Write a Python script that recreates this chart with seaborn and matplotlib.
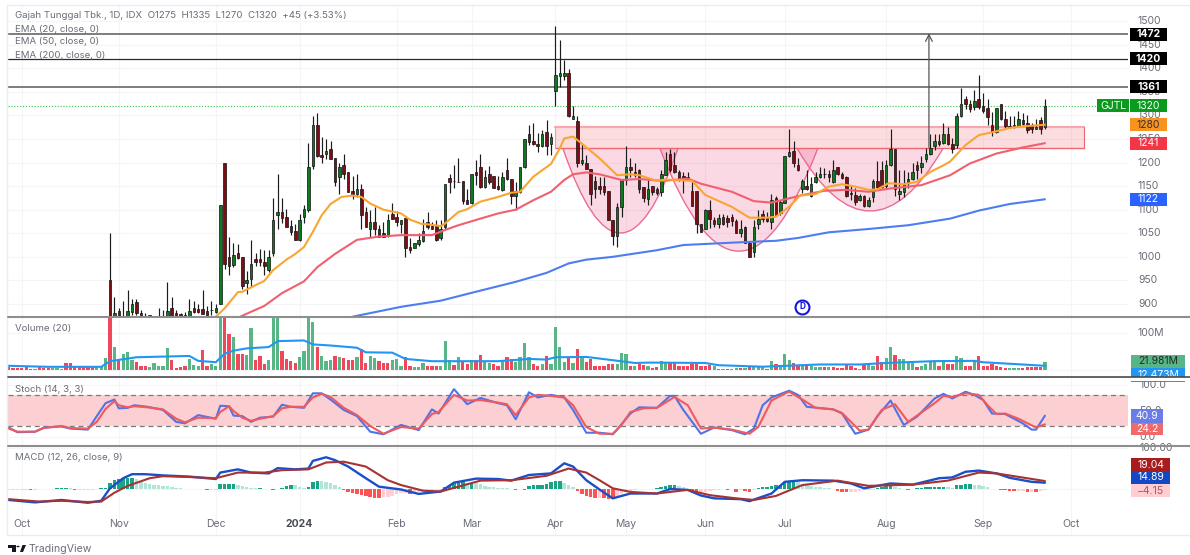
import numpy as np
import pandas as pd
import matplotlib
matplotlib.use("Agg")
import matplotlib.pyplot as plt
import seaborn as sns
from matplotlib.lines import Line2D
from matplotlib.path import Path
from matplotlib.patches import PathPatch, Polygon, Rectangle
from matplotlib.transforms import blended_transform_factory

# candles start at the big November spike, bars before it sit under the pane
candle_open = [950,873,886,875,874,884,905,881,875,876, 870,873,875,873,891,881,878,877,873,891,
    890,890,886,887,884,899,1199,1000,982,1009, 1000,945,954,995,995,990,972,1009,1089,1096,
    1084,1065,1055,1035,1084,1099,1193,1279,1216,1218, 1228,1210,1170,1194,1180,1139,1133,1143,1096,1059,
    1074,1060,1050,1045,1091,1084,1069,1083,1020,1018, 1028,1033,1074,1066,1065,1039,1063,1168,1160,1159,
    1160,1120,1115,1180,1190,1148,1175,1172,1150,1141, 1184,1165,1129,1138,1191,1260,1245,1240,1235,1264,
    1239,1352,1383,1383,1389,1293,1288,1198,1199,1186, 1160,1150,1150,1139,1079,1045,1105,1163,1190,1180,
    1184,1149,1122,1150,1144,1138,1173,1219,1195,1180, 1171,1165,1139,1139,1069,1060,1100,1079,1069,1085,
    1083,1084,1076,1050,1064,1030,1010,1069,1090,1084, 1074,1124,1093,1115,1214,1224,1195,1144,1150,1129,
    1159,1170,1175,1175,1159,1190,1175,1170,1135,1131, 1120,1130,1108,1126,1160,1184,1151,1195,1228,1134,
    1138,1159,1164,1194,1190,1207,1219,1235,1245,1242, 1260,1240,1237,1298,1334,1324,1318,1334,1320,1316,
    1279,1264,1325,1293,1277,1277,1278,1290,1284,1277, 1271,1290,1275]
candle_high = [1050,915,891,906,930,910,910,888,881,877, 871,891,887,946,915,888,881,883,910,906,
    899,930,896,906,901,1110,1200,1041,1030,1027, 1000,970,1036,1009,1016,1014,1015,1124,1175,1124,
    1101,1078,1069,1090,1110,1241,1298,1306,1255,1249, 1245,1210,1200,1219,1180,1171,1175,1154,1106,1099,
    1105,1067,1074,1091,1115,1097,1079,1083,1039,1030, 1050,1080,1095,1074,1078,1078,1154,1175,1194,1209,
    1160,1143,1175,1205,1219,1185,1193,1172,1171,1180, 1209,1165,1159,1190,1250,1279,1284,1262,1269,1290,
    1262,1489,1460,1418,1399,1320,1298,1240,1216,1186, 1171,1170,1170,1139,1079,1115,1166,1235,1209,1200,
    1187,1149,1163,1150,1149,1184,1223,1228,1223,1185, 1180,1180,1160,1139,1069,1102,1120,1085,1090,1090,
    1088,1090,1080,1078,1066,1030,1079,1100,1100,1096, 1133,1130,1120,1214,1270,1245,1209,1166,1185,1170,
    1180,1191,1189,1184,1205,1191,1180,1172,1150,1145, 1133,1132,1127,1166,1204,1204,1205,1270,1228,1184,
    1184,1180,1198,1203,1214,1230,1260,1260,1260,1284, 1276,1251,1304,1359,1340,1332,1354,1385,1347,1334,
    1308,1316,1325,1310,1298,1298,1310,1305,1300,1283, 1293,1296,1335]
candle_low = [870,873,873,873,873,876,877,873,873,873, 866,872,873,873,873,873,873,873,873,880,
    880,878,873,877,881,899,975,961,979,996, 931,921,935,981,981,961,968,1001,1060,1071,
    1064,1046,1035,1033,1071,1096,1186,1211,1200,1207, 1207,1150,1134,1166,1138,1122,1126,1060,1064,1041,
    1046,1043,1043,1043,1081,1066,1050,1000,1009,1018, 1023,1031,1058,1058,1034,1035,1060,1136,1145,1159,
    1111,1113,1113,1152,1145,1145,1155,1145,1141,1139, 1162,1111,1100,1136,1189,1237,1237,1223,1233,1216,
    1216,1320,1360,1375,1296,1293,1191,1195,1187,1110, 1124,1134,1131,1079,1025,1021,1085,1152,1170,1170,
    1136,1117,1110,1131,1131,1129,1173,1180,1177,1161, 1136,1162,1107,1051,1053,1058,1062,1063,1062,1067,
    1064,1065,1050,1042,1030,999,1000,1060,1074,1074, 1060,1086,1088,1115,1211,1191,1183,1136,1141,1127,
    1156,1168,1168,1159,1157,1173,1166,1127,1120,1110, 1118,1106,1106,1117,1147,1147,1145,1193,1129,1120,
    1127,1145,1162,1164,1177,1202,1215,1226,1236,1240, 1238,1221,1230,1297,1313,1308,1311,1313,1306,1279,
    1257,1262,1291,1270,1274,1274,1277,1279,1262,1262, 1272,1260,1270]
candle_close = [872,881,873,873,886,900,880,873,874,873, 868,873,874,886,875,873,873,873,886,884,
    884,879,875,888,891,1110,984,980,1004,998, 939,951,985,989,988,980,999,1079,1096,1083,
    1064,1053,1035,1079,1101,1190,1279,1214,1212,1224, 1207,1159,1190,1175,1138,1133,1144,1089,1064,1074,
    1059,1043,1043,1079,1081,1073,1079,1019,1014,1030, 1035,1055,1063,1060,1035,1060,1154,1159,1160,1159,
    1119,1113,1175,1173,1148,1170,1158,1147,1143,1170, 1164,1130,1139,1190,1250,1244,1239,1235,1260,1235,
    1255,1385,1390,1390,1298,1298,1198,1205,1187,1133, 1143,1143,1138,1079,1045,1105,1163,1190,1184,1174,
    1144,1124,1143,1138,1136,1175,1205,1184,1180,1163, 1163,1170,1107,1069,1053,1100,1081,1069,1083,1069,
    1074,1076,1050,1060,1030,999,1064,1081,1081,1076, 1120,1088,1117,1214,1223,1200,1184,1160,1144,1154,
    1170,1175,1175,1170,1185,1175,1168,1129,1133,1117, 1130,1108,1120,1160,1149,1149,1195,1228,1144,1140,
    1154,1166,1180,1184,1200,1219,1230,1246,1239,1260, 1240,1228,1298,1325,1325,1313,1330,1318,1310,1297,
    1264,1316,1293,1278,1276,1279,1293,1281,1269,1270, 1276,1272,1320]

ema20_x = [24,26,29,30,35,37,40,42,44,46,48,50,52.5,55,57,59,62,64,66,68,70.6,72,75,76,79,81,84,88,91,93,96,100,102,103,105,107,111,115,118,120,124,126,132,135,141,145,149,151,154,156.5,160,163,166,169,172,174,176.5,180,183,186,189,190.5,194,197,200,204.5,207.5,212]
ema20 = [873,891,925,926,949,972,994,1006,1021,1053,1088,1112,1127,1130,1127,1113,1100,1096,1092,1079,1070,1069,1065,1071,1095,1101,1117,1127,1136,1138,1170,1197,1230,1251,1255,1240,1209,1173,1175,1173,1161,1164,1161,1131,1106,1083,1083,1085,1106,1130,1133,1149,1154,1149,1142,1143,1156,1154,1159,1180,1194,1202,1237,1258,1264,1274,1277,1280]
ema50_x = [29.5,35,39,44,47,51,56,61,66,70,73,76,79,84,88,92,96,100,103,105,108,111,116,120,125.5,131,134,141,146,150,154,157,162,167,172,177,184,190.5,195,201,207,212]
ema50 = [873,896,923,948,978,1006,1036,1043,1046,1046,1046,1057,1067,1081,1092,1100,1120,1138,1163,1175,1179,1175,1163,1165,1161,1166,1155,1138,1118,1115,1124,1131,1140,1142,1138,1145,1152,1173,1198,1219,1232,1241]
ema200_x = [55,66,75,83,92,99,104,108,114,124,130,141,151,156,163,172,181,190.5,197,204,212]
ema200 = [873,894,907,926,947,966,986,994,1000,1014,1025,1030,1034,1040,1052,1059,1067,1081,1098,1112,1122]

# volume in millions with its direction, first bar is 23 sessions before the spike
vol_pairs = (
    "r8 r6.2 r5.3 r6.2 r10.6 r4.4 g3.5 r8.9 r7 r5.3 g6.2 g6.2 g4.4 r19.5 r19.5 r8 r8 r8 r8 r8 g8 g8.9 g33.6 "
    "r142 g64 r31 g44 g50 g28 r22 r13 r11.5 g9 g19.5 g13 g11 g60 r28 r7 r9 r12.4 g31 g15 g11 r55 r12.4 g16 g11 "
    "g142 r142 r99 g91 r44 r44 g41 g115 r27 r39 r16 g28 g142 g142 r53 r31 r25 r19.5 g37 g51 g142 g131 r64 g40 g25 "
    "g28 r39 g37 r34 r28 r29 g37 r58 r19.5 g39 g34 r25 r19.5 r19.5 g27 g31 g13 r36 r13 g9 g9 g19.5 r13 r11 r11 g13 "
    "g78 g27 r14 g37 r22 r16 g27 r27 r42 g22 g19.5 r16 r13 g27 r35 r32 g22 g37 g75 g35 r18 r13 g16 r40 g18 "
    "g118 g62 g22 r34 g19.5 r58 g35 r22 r31 r13 r13 r13 r16 r18 g18 g46 g44 r13 g13 r16 r14 g13 r7 r8 "
    "g24 g23 r19.5 r19.5 r12 r11 r12 r18 r18 r11.5 r12 r14 g11 r4 g4 r3.5 g3.5 g6 r7 g6 r11 g9 g9 g9 r5 "
    "g24 r16 g14 g44 g29 r19.5 r13 g13 r12 g13 g9 g9 r8 g9 r9 r7 r7 r16 r12 r7 g5 r16 g16 g13 "
    "r40 r22 g34 g64 r42 g31 g31 g19.5 g19.5 r9 g13 g18 g22 g22 r13 g22 r18 r18 g40 g34 r11 r13 g25 r40 "
    "r13 r13 r16 r12 r9 r7 g7 g7 g7 r6 r9 r8 r8 r8 g21.981").split()
volume = [float(p[1:]) for p in vol_pairs]
vol_dir = [p[0] for p in vol_pairs]
vol_ma_x = [-23,-20,-14,-2,0,4,6,12,18,20,24,26,28,31,36,38,44,46,50,56,58,64,67,73,88,95,99,101,108,113,119,122,124,135,138,148,161,170,176,187,196,198,212]
vol_ma = [12.4,11.5,9.7,9.7,24.8,31.9,35.4,37.2,38.9,25.7,22.1,45,53.1,59.3,62.8,78.8,80.6,70,67,61,48.7,47.8,30.9,24.8,24.8,30.9,29.2,35.4,36.3,29,20,21,21,20,14,10,16,16,20,25,25.7,22,12.473]

stoch_k_x = [-23,-21,-17,-15,-11,-9,-5,-3,-1,1,2,4,5.5,8.5,12,15,17,20,24,25,27,28,30,32,34,37,39,41,44,46,48,50,53,56,59,62,66,70,73,74.5,78,81,84,88,90,92,95,97,100,103,105,108,111,
    114,115,118,120,124,127,128,130,134,137,141,144,146,148,150,154,156,158,164,166,169,172,174,177,180,183,187,189,191,194,196,198,200,203,205,207,209,210,212]
stoch_k = [18,9,10,18,20,16,14,40,65,72,55,56,61,58,52,29,26,42,35,60,59,41,40,29,37,39,62,58,56,84,84,72,52,40,10,5,23,13,53,45,92,63,75,65,61,34,86,76,81,76,52,8,8,
    5,14,45,57,56,79,79,52,6,18,13,5,16,61,76,89,81,58,53,45,6,14,40,70,23,39,74,83,74,87,81,71,45,44,35,26,14,14,40.9]
stoch_d_x = [-23,-21,-17,-15,-11,-9,-5,-3,-1,1,2,4,5.5,8.5,12,15,17,20,24,25,27,28,30,32,34,37,39,41,44,46,48,50,53,56,59,62,66,70,73,74.5,78,81,84,88,90,92,95,97,100,103,105,108,111,
    114,116,118,121,124,125,128,131,134,137,141,145,147,150,152,154,157,160,164,166,170,172,175,178,181,187,189,191,194,197,199,201,203,206,210,212]
stoch_d = [16,10,10,17,21,17,16,29,54,69,61,57,59,57,53,35,28,37,36,48,59,50,37,31,35,40,55,58,58,76,83,77,56,42,21,6,19,16,44,48,81,70,71,66,63,42,76,81,79,76,61,19,6,
    6,23,48,55,56,61,77,61,16,18,14,6,19,70,79,87,72,56,53,46,12,14,52,63,29,65,79,77,84,81,61,44,45,35,18,24.2]
stoch_lower, stoch_upper = 20, 80

macd_x = [-23,-17,-11,-5,-2,0,3,5,8,12,18,24,25,29,32,36,38,42,45,46,49,51,54,58,61,66,70,75,78,83,88,91,95,100,103,105,108,111,
    114,118,124,127,131,134,137,143,145,150,153,157,164,168,171,177,182,188,191,194,197,201,204,209,212]
macd = [-28,-34,-28,-35,-30,1,26,36,36,33,30,24,40,48,40,38,51,48,50,69,78,71,55,26,5,-2,-13,-7,15,25,24,20,34,38,63,55,21,-2,
    -24,-12,-12,-1,-3,-17,-24,-26,-31,-12,17,21,20,13,1,13,10,26,28,42,45,38,27,17,14.89]
signal_x = [-23,-16,-11,-5,-2,1,4,9,12,18,24,29,35,39,45,49,53,58,63,66,71,75,79,84,91,99,104,108,111,
    114,118,124,131,136,142,146,151,157,165,172,182,190,197,201,212]
signal = [-26,-32,-30,-33,-32,-10,7,26,31,29,26,40,40,46,48,65,67,55,21,9,-5,-7,5,20,21,32,50,40,21,
    1,-8,-12,-3,-16,-24,-28,-18,9,20,7,10,20,40,38,19.04]
macd_hist = [-3,-3,-3,-3,-2.5,-3,-2.5,-1,-1,-1,-1,2,2,2,1,-2.5,-2.5,-2.5,-2.5,-2.5,-1,2,2.5,
    14,22,25,26,27,27,23,18,15,12,10,8,7,6,5,2.5,2,-1,-2,-1,-2,-2,-2.5,-2.5,-2.5,
    12,12,12,12,9,7,3,2.5,2,2,-2,-2,-2.5,-1,2.5,7,9,8,5,2.5,5,17,19,18,17,15,8,3,
    -3,-7,-10,-12,-15,-18,-21,-22,-23,-21,-20,-17,-13,-10,-10,-12,-12,-8,-7,-7,-6,-4,-2.5,
    5,10,13,17,17,15,15,13,12,7,5,3,2.5,2,1,-2,-2.5,-2,-3,7,10,10,10,12,16,18,20,15,10,3,
    -5,-12,-17,-20,-23,-23,-24,-25,-26,-23,-13,-8,-5,-2.5,-2,-2,-1,-1,2,3,7,8,8,6,4,
    -3,-5,-8,-8,-8,-5,-2.5,-2.5,-2,-2.5,-2,-7,-2.5,-5,-8,-2.5,2,3,5,7,8,10,15,18,20,17,10,8,7,5,3,2,1,
    -2,-5,-7,-8,-8,-7,-5,-3,-2.5,-2.5,2,3,7,8,3,2,-2,-2.5,-1,2,2.5,3,3,4,4,4,3,2.5,
    8,10,12,12,10,8,7,5,-1,-2,-2.5,-3,-5,-6,-6,-6,-7,-7,-7.5,-6,-4.15]

month_labels = ["Oct","Nov","Dec","2024","Feb","Mar","Apr","May","Jun","Jul","Aug","Sep","Oct"]
month_pos = [-20,2,24,43,65,82,101,117,135,153,176,198,218]
price_ticks = [1500,1450,1400,1350,1300,1250,1200,1150,1100,1050,1000,950,900]

W, H = 1190, 555
sns.set_theme(style="white")
plt.rcParams['font.family'] = ['Inter', 'DejaVu Sans']
TXT = "#6a6d78"
FS = 7.5

fig = plt.figure(figsize=(W / 100, H / 100), dpi=100, facecolor="white")

def make_ax(top, bottom):
    ax = fig.add_axes([8 / W, 1 - bottom / H, 1120 / W, (bottom - top) / H])
    ax.set_facecolor("none")
    for s in ax.spines.values():
        s.set_visible(False)
    return ax

ax_p = make_ax(5, 317)
ax_v = make_ax(318, 377)
ax_s = make_ax(378, 446)
ax_m = make_ax(446, 535)

xlims = (-23.13, 230.84)

def finish(ax, ylim, hgrid):
    ax.set_xlim(*xlims)
    ax.set_ylim(*ylim)
    ax.set_xticks([])
    ax.set_yticks([])
    ax.set_xlabel("")
    ax.set_ylabel("")
    for m in month_pos:
        ax.axvline(m, color="#f3f5f8", lw=0.8, zorder=0)
    for g in hgrid:
        ax.axhline(g, color="#f3f5f8", lw=0.8, zorder=0)

def line(ax, x, y, color, lw, z=5):
    sns.lineplot(x=x, y=y, color=color, lw=lw, ax=ax, estimator=None, sort=False,
                 errorbar=None, legend=False, zorder=z, solid_joinstyle="round")

# main pane
candles = pd.DataFrame({"o": candle_open, "h": candle_high, "l": candle_low, "c": candle_close})
candles["i"] = candles.index
up = candles[candles.c >= candles.o]
down = candles[candles.c < candles.o]
finish(ax_p, (872.4, 1534), price_ticks)

for top_y, base_y, x0, x1 in [(1230, 871, 102.7, 128.8), (1230, 794, 124.7, 160.5), (1230, 964, 155.8, 188.9)]:
    path = Path([(x0, top_y), ((x0 + x1) / 2, base_y), (x1, top_y), (x0, top_y)],
                [Path.MOVETO, Path.CURVE3, Path.CURVE3, Path.CLOSEPOLY])
    ax_p.add_patch(PathPatch(path, fc="#e91e63", alpha=0.17, ec="none", zorder=1))
    ax_p.add_patch(PathPatch(Path(path.vertices[:3], path.codes[:3]), fc="none", ec="#ea6b94", lw=1.0, zorder=1.5))

ax_p.add_patch(Rectangle((100.9, 1230), 120, 45, fc="#f23645", alpha=0.17, ec="none", zorder=1))
ax_p.plot([100.9, 220.9], [1275, 1275], color="#f7a8af", lw=1.6, zorder=1.6)
ax_p.plot([100.9, 220.9], [1230, 1230], color="#ee6672", lw=1.0, zorder=1.6)
ax_p.plot([100.9, 100.9], [1230, 1275], color="#f59aa2", lw=0.8, zorder=1.6)
ax_p.plot([220.9, 220.9], [1230, 1275], color="#ee6672", lw=0.8, zorder=1.6)

ax_p.axhline(1472, color="#7d7d7d", lw=1.4, zorder=2)
ax_p.axhline(1420, color="#2b2b2b", lw=0.9, zorder=2)
ax_p.axhline(1361, color="#7d7d7d", lw=1.4, zorder=2)
ax_p.hlines(1320, xlims[0], 223.8, color="#35c04d", lw=0.8, linestyles=(0, (1, 1.6)), zorder=2)

ax_p.vlines(candles.i, candles.l, candles.h, color="#1c1c1c", lw=0.85, zorder=3)
ax_p.bar(up.i, up.c - up.o, bottom=up.o, width=0.58, color="#0a7a1f", ec="#101010", lw=0.5, zorder=4)
ax_p.bar(down.i, down.o - down.c, bottom=down.c, width=0.58, color="#7d0d12", ec="#101010", lw=0.5, zorder=4)

line(ax_p, ema200_x, ema200, "#4d7df0", 1.5)
line(ax_p, ema50_x, ema50, "#f0606e", 1.5)
line(ax_p, ema20_x, ema20, "#f9a532", 1.5)

ax_p.annotate("", xy=(185.7, 1474), xytext=(185.7, 1232),
              arrowprops=dict(arrowstyle="->", color="#555555", lw=0.9, shrinkA=0, shrinkB=0), zorder=6)
ax_p.scatter([157], [893.7], s=100, fc="white", ec="#1414e0", lw=1.5, zorder=6, clip_on=False)
ax_p.text(157, 893.7, "D", color="#1414e0", fontsize=6, fontweight="bold", ha="center", va="center", zorder=7)

# volume pane, the white style puts a white edge on bars so switch it off
vol_df = pd.DataFrame({"i": np.arange(-23, 213), "vol": volume, "dir": vol_dir})
sns.barplot(data=vol_df, x="i", y="vol", hue="dir", palette={"g": "#58b586", "r": "#f0475a"},
            native_scale=True, dodge=False, width=0.74, saturation=1, linewidth=0, errorbar=None,
            legend=False, ax=ax_v, zorder=3)
line(ax_v, vol_ma_x, vol_ma, "#2196f3", 1.5)
finish(ax_v, (-17.7, 141), [0, 100])

# stochastic pane
ax_s.axhspan(stoch_lower, stoch_upper, color="#fccfd2", lw=0, zorder=1)
ax_s.axhline(stoch_upper, color="#7a7a7a", lw=0.9, ls=(0, (4, 3)), zorder=2)
ax_s.axhline(stoch_lower, color="#7a7a7a", lw=0.9, ls=(0, (4, 3)), zorder=2)
line(ax_s, stoch_k_x, stoch_k, "#5273e6", 1.5)
line(ax_s, stoch_d_x, stoch_d, "#ee5a5f", 1.5, z=6)
finish(ax_s, (-17.6, 113.5), [0, 100])

# macd pane, bar shade follows whether the histogram grew or shrank
prev = [macd_hist[0]] + macd_hist[:-1]
shade = []
for cur, before in zip(macd_hist, prev):
    if cur >= 0:
        shade.append("pos_up" if cur >= before else "pos_down")
    else:
        shade.append("neg_down" if cur < before else "neg_up")
hist_df = pd.DataFrame({"i": np.arange(-23, 213), "hist": macd_hist, "shade": shade})
sns.barplot(data=hist_df, x="i", y="hist", hue="shade", native_scale=True, dodge=False, width=0.8, saturation=1,
            linewidth=0, palette={"pos_up": "#1aa384", "pos_down": "#b2e5d8", "neg_down": "#ff5252", "neg_up": "#ffcdd2"},
            errorbar=None, legend=False, ax=ax_m, zorder=3)
line(ax_m, macd_x, macd, "#1a4fc8", 1.7)
line(ax_m, signal_x, signal, "#a83232", 1.5, z=6)
finish(ax_m, (-115, 106), [0, 100])

# axis text on the right, laid out from the axes' own scales
def ypx(ax, val):
    return H - ax.transData.transform((0, val))[1]

def axis_label(ax, val, txt, x=1130):
    fig.text(x / W, 1 - ypx(ax, val) / H, txt, color=TXT, fontsize=FS, ha="left", va="center", zorder=5)

def badge(x0, x1, y0, y1, fc, txt, tc, weight="normal"):
    fig.add_artist(Rectangle((x0 / W, 1 - y1 / H), (x1 - x0) / W, (y1 - y0) / H, transform=fig.transFigure,
                             fc=fc, ec="none", zorder=6))
    fig.text((x0 + x1) / 2 / W, 1 - (y0 + y1) / 2 / H, txt, color=tc, fontsize=FS, fontweight=weight,
             ha="center", va="center", zorder=7)

for tick in price_ticks:
    axis_label(ax_p, tick, str(tick), x=1138)
axis_label(ax_v, 100, "100M", x=1138)
axis_label(ax_s, 100, "100.0", x=1139)
axis_label(ax_s, 50, "50.0", x=1139)
axis_label(ax_s, 0, "0.0", x=1139)
axis_label(ax_m, 100, "100.00", x=1139)

for val, fc, tc in [(1472, "#000000", "white"), (1420, "#000000", "white"), (1361, "#000000", "white"),
                    (1320, "#0a9a1e", "white"), (1280, "#f7931e", "#333333"),
                    (1241, "#f23645", "white"), (1122, "#2962ff", "white")]:
    yc = ypx(ax_p, val)
    badge(1130, 1167, yc - 6.5, yc + 6.5, fc, str(val), tc, "bold" if fc == "#000000" else "normal")
yc = ypx(ax_p, 1320)
badge(1097, 1129, yc - 6.5, yc + 6.5, "#0a9a1e", "GJTL", "white")

badge(1131, 1185, 355, 368, "#58b586", "21.981M", "#1f2a24")
badge(1131, 1185, 368, 382, "#2196f3", "12.473M", "white")
fig.add_artist(Rectangle((1125 / W, 1 - 381 / H), 65 / W, 4 / H, transform=fig.transFigure, fc="white", ec="none", zorder=8))
badge(1131, 1163, 409, 423, "#6b7ce8", "40.9", "white")
badge(1131, 1163, 423, 435, "#ef6b6b", "24.2", "white")
badge(1131, 1170, 458, 471, "#a81c1c", "19.04", "white")
badge(1131, 1170, 471, 484, "#1347c4", "14.89", "white")
badge(1131, 1170, 484, 497, "#ffcdd2", "\u22124.15", "#a85a5a")

# pane separators and outer frame
for y, c, lw in [(317, "#8e8e8e", 1.5), (377, "#4a4a4a", 1.2), (446, "#8e8e8e", 1.5)]:
    fig.add_artist(Line2D([8 / W, 1], [1 - y / H] * 2, color=c, lw=lw, zorder=9))
fig.add_artist(Line2D([7 / W, 1], [1 - 5 / H] * 2, color="#e9edf3", lw=1))
fig.add_artist(Line2D([7 / W, 1], [1 - 535 / H] * 2, color="#e9edf3", lw=1))
fig.add_artist(Line2D([7 / W, 7 / W], [1 - 5 / H, 1 - 535 / H], color="#e9edf3", lw=1))

# pane titles
fig.text(15 / W, 1 - 16 / H, "Gajah Tunggal Tbk., 1D, IDX  O1275  H1335  L1270  C1320  +45 (+3.53%)",
         color=TXT, fontsize=6.95, va="center")
for txt, y in [("EMA (20, close, 0)", 29), ("EMA (50, close, 0)", 42), ("EMA (200, close, 0)", 55),
               ("Volume (20)", 329), ("Stoch (14, 3, 3)", 390), ("MACD (12, 26, close, 9)", 458)]:
    fig.text(15 / W, 1 - y / H, txt, color=TXT, fontsize=6.95, va="center")

trans = blended_transform_factory(ax_m.transData, ax_m.transAxes)
for lab, pos in zip(month_labels, month_pos):
    bold = lab == "2024"
    ax_m.text(pos, (535 - 524) / 89, lab, transform=trans, ha="center", va="center", fontsize=FS,
              color="#4a4d57" if bold else TXT, fontweight="bold" if bold else "normal")

# TradingView logo and wordmark
for pts in [[(8, 545), (16, 545), (16, 552), (12, 552), (12, 548), (8, 548)],
            [(20, 552), (22.5, 545), (26, 545), (23, 552)]]:
    fig.add_artist(Polygon([(x / W, 1 - y / H) for x, y in pts], transform=fig.transFigure, fc="#131722", ec="none"))
fig.add_artist(plt.Circle((18 / W, 1 - 546.5 / H), 1.6 / W, transform=fig.transFigure, fc="#131722", ec="none"))
fig.text(29 / W, 1 - 549 / H, "TradingView", color=TXT, fontsize=7.6, va="center")

fig.savefig("out.png", dpi=100)
